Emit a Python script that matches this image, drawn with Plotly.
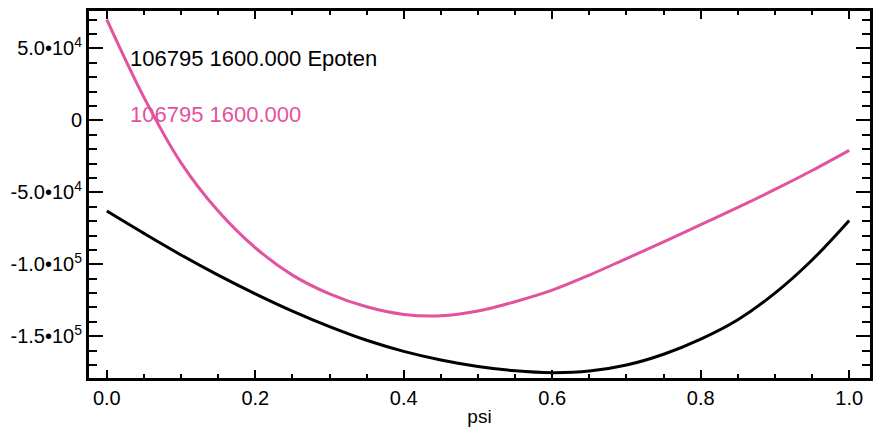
import plotly.graph_objects as go

psi = [0.00, 0.05, 0.10, 0.15, 0.20, 0.25, 0.30, 0.35, 0.40, 0.45, 0.50,
       0.55, 0.60, 0.65, 0.70, 0.75, 0.80, 0.85, 0.90, 0.95, 1.00]

epoten_black = [-63000, -78500, -93500, -107500, -120500, -132500, -143300,
                -152800, -160500, -166500, -171000, -174000, -175300, -174200,
                -170000, -162500, -152000, -138500, -120000, -97000, -69500]

epoten_pink = [70000, 16000, -29500, -63000, -88500, -107500, -120500,
               -129500, -134800, -135800, -132500, -126000, -118000, -107500,
               -96000, -84500, -72500, -60500, -48000, -34800, -20800]

ytick_vals = [50000, 0, -50000, -100000, -150000]
ytick_text = ["5.0•10<sup>4</sup>", "0", "-5.0•10<sup>4</sup>",
              "-1.0•10<sup>5</sup>", "-1.5•10<sup>5</sup>"]
xtick_vals = [0.0, 0.2, 0.4, 0.6, 0.8, 1.0]
xtick_text = ["0.0", "0.2", "0.4", "0.6", "0.8", "1.0"]

label_black = "106795 1600.000 Epoten"
label_pink = "106795 1600.000"

PINK = "#e3529e"
FONT = "Liberation Sans, Arial, Helvetica, sans-serif"

fig = go.Figure()
fig.add_trace(go.Scatter(x=psi, y=epoten_pink, mode="lines",
                         line=dict(color=PINK, width=3, shape="spline"),
                         showlegend=False))
fig.add_trace(go.Scatter(x=psi, y=epoten_black, mode="lines",
                         line=dict(color="black", width=3, shape="spline"),
                         showlegend=False))

fig.add_annotation(x=0.028, y=43000, text=label_black, showarrow=False,
                   xanchor="left", yanchor="middle",
                   font=dict(size=22, color="black", family=FONT))
fig.add_annotation(x=0.028, y=4200, text=label_pink, showarrow=False,
                   xanchor="left", yanchor="middle",
                   font=dict(size=22, color=PINK, family=FONT))

fig.update_xaxes(range=[-0.024, 1.028], tickvals=xtick_vals, ticktext=xtick_text,
                 ticks="inside", ticklen=8, tickwidth=2, tickcolor="black",
                 showline=True, linewidth=3, linecolor="black", mirror="allticks",
                 showgrid=False, zeroline=False,
                 minor=dict(dtick=0.05, tick0=0, ticks="inside", ticklen=4,
                            tickwidth=2, tickcolor="black", showgrid=False),
                 title=dict(text="psi", font=dict(size=19, family=FONT, color="black"),
                            standoff=2),
                 tickfont=dict(size=20, family=FONT, color="black"))
fig.update_yaxes(range=[-179000, 76000], tickvals=ytick_vals, ticktext=ytick_text,
                 ticks="inside", ticklen=14, tickwidth=2, tickcolor="black",
                 showline=True, linewidth=3, linecolor="black", mirror="allticks",
                 showgrid=False, zeroline=False,
                 minor=dict(dtick=10000, tick0=0, ticks="inside", ticklen=8,
                            tickwidth=2, tickcolor="black", showgrid=False),
                 tickfont=dict(size=20, family=FONT, color="black"))

fig.update_layout(width=878, height=434,
                  margin=dict(l=89, r=5, t=11, b=56),
                  paper_bgcolor="white", plot_bgcolor="white",
                  font=dict(family=FONT, color="black"))

fig.write_html("out.html")
